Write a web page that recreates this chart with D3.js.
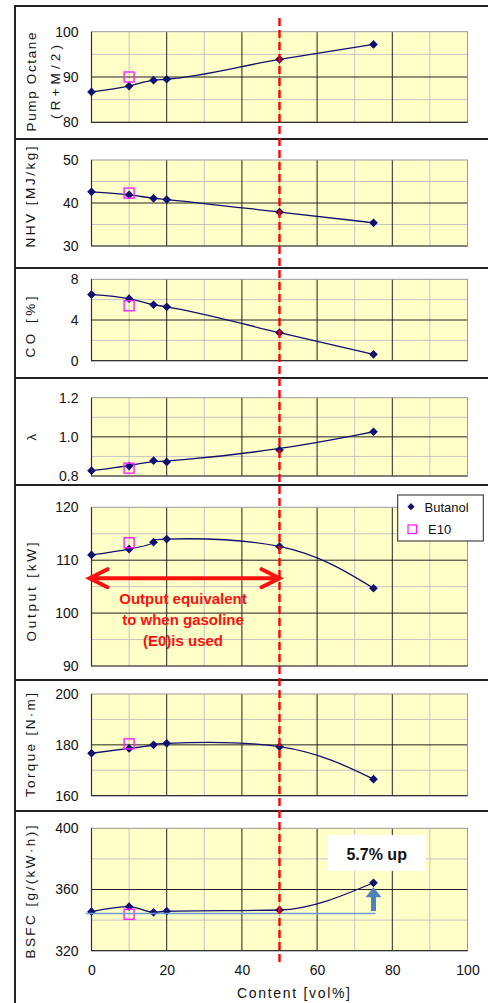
<!DOCTYPE html>
<html>
<head>
<meta charset="utf-8">
<script src="https://cdn.jsdelivr.net/npm/d3@7"></script>
<style>
    body { margin: 0; background: #fff; }
    text { font-family: "Liberation Sans", Arial, sans-serif; }
</style>
</head>
<body>
<svg id="chart" width="488" height="1003"></svg>
<script>
// Butanol content [vol%] and measured values
const content = [0, 10, 16.5, 20, 50, 75];
const e10Content = [10];

const octane = [86.7, 88.0, 89.3, 89.5, 93.9, 97.2];
const octaneE10 = [90.0];
const nhv = [42.6, 41.9, 41.1, 40.8, 37.9, 35.4];
const nhvE10 = [42.3];
const co = [6.5, 6.1, 5.5, 5.3, 2.75, 0.63];
const coE10 = [5.4];
const lambda = [0.827, 0.851, 0.878, 0.872, 0.933, 1.026];
const lambdaE10 = [0.84];
const output = [111.0, 112.1, 113.4, 114.0, 112.6, 104.7];
const outputE10 = [113.3];
const torque = [176.7, 178.6, 180.0, 180.6, 179.3, 166.5];
const torqueE10 = [180.4];
const bsfc = [345.5, 348.8, 345.1, 345.8, 346.6, 364.4];
const bsfcE10 = [343.8];

// annotations
const limitContent = 50;
const bsfcBase = 344.3;
const bsfcArrow = [346, 361.4];
const outputArrowLevel = 106.6;

const xTicks = [0, 20, 40, 60, 80, 100];
const xGrid = d3.range(0, 101, 10);

const svg = d3.select("#chart");
const x = d3.scaleLinear().domain([0, 100]).range([91.5, 467.5]);

const navy = "#10106e";

// panel setup (layout only)
const panels = [
    { title: ["Pump Octane", "(R+M/2)"], len: [99, 74], tx: [31, 55], ty: 82, top: 31.7, bottom: 122.3,
      domain: [80, 100], ticks: [80, 90, 100], minor: [85, 95], values: octane, e10: octaneE10, curve: d3.curveMonotoneX, fmt: d3.format("d") },
    { title: ["NHV [MJ/kg]"], len: [101], tx: [30], ty: 197, top: 160, bottom: 246,
      domain: [30, 50], ticks: [30, 40, 50], minor: [35, 45], values: nhv, e10: nhvE10, curve: d3.curveMonotoneX, fmt: d3.format("d") },
    { title: ["CO [%]"], len: [61], tx: [30], ty: 327, top: 279.3, bottom: 360.7,
      domain: [0, 8], ticks: [0, 4, 8], minor: [2, 6], values: co, e10: coE10, curve: d3.curveMonotoneX, fmt: d3.format("d") },
    { title: ["λ"], len: [null], tx: [31], ty: 437, top: 397.7, bottom: 476,
      domain: [0.8, 1.2], ticks: [0.8, 1.0, 1.2], minor: [0.9, 1.1], values: lambda, e10: lambdaE10, curve: d3.curveBasis, fmt: d3.format(".1f") },
    { title: ["Output  [kW]"], len: [99], tx: [31], ty: 592, top: 507.3, bottom: 666,
      domain: [90, 120], ticks: [90, 100, 110, 120], minor: [95, 105, 115], values: output, e10: outputE10, curve: d3.curveNatural, fmt: d3.format("d") },
    { title: ["Torque [N·m]"], len: [104], tx: [30], ty: 745, top: 694, bottom: 795.7,
      domain: [160, 200], ticks: [160, 180, 200], minor: [170, 190], values: torque, e10: torqueE10, curve: d3.curveNatural, fmt: d3.format("d") },
    { title: ["BSFC [g/(kW·h)]"], len: [133], tx: [30], ty: 892, top: 828.3, bottom: 950.7,
      domain: [320, 400], ticks: [320, 360, 400], minor: [340, 380], values: bsfc, e10: bsfcE10, curve: d3.curveMonotoneX, fmt: d3.format("d") }
];

// outer frame
const sepY = [6, 139, 268, 378, 485, 680, 811];
svg.append("g")
    .selectAll("line")
    .data(sepY)
    .enter()
    .append("line")
    .attr("x1", 15).attr("x2", 488)
    .attr("y1", (d) => d).attr("y2", (d) => d)
    .attr("stroke", "#222").attr("stroke-width", 2);
svg.append("line")
    .attr("x1", 15).attr("x2", 15).attr("y1", 5).attr("y2", 1003)
    .attr("stroke", "#222").attr("stroke-width", 2);

let yScales = [];

panels.forEach(function (p, i) {
    const y = d3.scaleLinear().domain(p.domain).range([p.bottom, p.top]);
    yScales.push(y);
    const g = svg.append("g");

    g.append("rect")
        .attr("x", x(0)).attr("y", p.top)
        .attr("width", x(100) - x(0)).attr("height", p.bottom - p.top)
        .attr("fill", "#ffffc8");

    // minor grid
    g.selectAll("line.vminor")
        .data(xGrid.filter((d) => d % 20 !== 0))
        .enter().append("line")
        .attr("x1", (d) => x(d)).attr("x2", (d) => x(d))
        .attr("y1", p.top).attr("y2", p.bottom)
        .attr("stroke", "#c4c4c4").attr("stroke-width", 1);
    g.selectAll("line.hminor")
        .data(p.minor)
        .enter().append("line")
        .attr("x1", x(0)).attr("x2", x(100))
        .attr("y1", (d) => y(d)).attr("y2", (d) => y(d))
        .attr("stroke", "#c4c4c4").attr("stroke-width", 1);
    // major grid
    g.selectAll("line.vmajor")
        .data(xTicks.slice(1, -1))
        .enter().append("line")
        .attr("x1", (d) => x(d)).attr("x2", (d) => x(d))
        .attr("y1", p.top).attr("y2", p.bottom)
        .attr("stroke", "#222").attr("stroke-width", 1);
    g.selectAll("line.hmajor")
        .data(p.ticks.slice(1, -1))
        .enter().append("line")
        .attr("x1", x(0)).attr("x2", x(100))
        .attr("y1", (d) => y(d)).attr("y2", (d) => y(d))
        .attr("stroke", "#222").attr("stroke-width", 1);

    // plot border
    g.append("rect")
        .attr("x", x(0)).attr("y", p.top)
        .attr("width", x(100) - x(0)).attr("height", p.bottom - p.top)
        .attr("fill", "none").attr("stroke", "#999").attr("stroke-width", 1);
    g.append("path")
        .attr("d", `M${x(0)},${p.top}V${p.bottom}H${x(100)}`)
        .attr("fill", "none").attr("stroke", "#333").attr("stroke-width", 1.2);

    // y axis labels
    const ax = g.append("g")
        .attr("transform", `translate(${x(0)},0)`)
        .call(d3.axisLeft(y).tickValues(p.ticks).tickSize(0).tickPadding(13).tickFormat(p.fmt));
    ax.select(".domain").remove();
    ax.selectAll("text").attr("font-size", 14).attr("fill", "#111")
        .style("font-family", '"Liberation Sans", Arial, sans-serif');

    // title
    p.title.forEach(function (t, j) {
        const tt = g.append("text")
            .attr("transform", `translate(${p.tx[j]},${p.ty}) rotate(-90)`)
            .attr("text-anchor", "middle")
            .attr("dy", "0.35em")
            .attr("font-size", 13.5)
            .attr("fill", "#111")
            .text(t);
        if (p.len[j]) tt.attr("textLength", p.len[j]).attr("lengthAdjust", "spacing");
    });

    // series line
    const lineGen = d3.line()
        .x((d, k) => x(content[k]))
        .y((d) => y(d))
        .curve(p.curve);
    g.append("path")
        .datum(p.values)
        .attr("d", lineGen)
        .attr("fill", "none")
        .attr("stroke", navy)
        .attr("stroke-width", 1.3);

    // diamonds
    g.selectAll("path.pt")
        .data(p.values)
        .enter().append("path")
        .attr("d", d3.symbol().type(d3.symbolSquare).size(38))
        .attr("transform", (d, k) => `translate(${x(content[k])},${y(d)}) rotate(45)`)
        .attr("fill", navy);

    // E10 squares
    g.selectAll("rect.e10")
        .data(p.e10)
        .enter().append("rect")
        .attr("x", (d, k) => x(e10Content[k]) - 5)
        .attr("y", (d) => y(d) - 5)
        .attr("width", 10).attr("height", 10)
        .attr("fill", "none")
        .attr("stroke", "#ff1fff")
        .attr("stroke-width", 1.4);
});

// x axis on the bottom panel
const last = panels[panels.length - 1];
const xAxis = svg.append("g")
    .attr("transform", `translate(0,${last.bottom})`)
    .call(d3.axisBottom(x).tickValues(xTicks).tickSize(0).tickPadding(14));
xAxis.select(".domain").remove();
xAxis.selectAll("text").attr("font-size", 14).attr("fill", "#111")
    .style("font-family", '"Liberation Sans", Arial, sans-serif');
svg.append("text")
    .attr("x", 293.5).attr("y", 998)
    .attr("text-anchor", "middle")
    .attr("font-size", 14)
    .attr("fill", "#111")
    .attr("textLength", 113).attr("lengthAdjust", "spacing")
    .text("Content [vol%]");

// BSFC baseline and arrow
const yB = yScales[6];
svg.append("line")
    .attr("x1", x(-1.5)).attr("x2", x(75.5))
    .attr("y1", yB(bsfcBase)).attr("y2", yB(bsfcBase))
    .attr("stroke", "#6b9bd2").attr("stroke-width", 1.6);
const ax75 = x(75), aBot = yB(bsfcArrow[0]), aTop = yB(bsfcArrow[1]);
svg.append("path")
    .attr("d", `M${ax75 - 2.5},${aBot}V${aTop + 10}H${ax75 - 8}L${ax75},${aTop}L${ax75 + 8},${aTop + 10}H${ax75 + 2.5}V${aBot}Z`)
    .attr("fill", "#4f81bd");

// 5.7% up label
svg.append("rect")
    .attr("x", 327.7).attr("y", 835).attr("width", 98).attr("height", 36)
    .attr("fill", "#fff");
svg.append("text")
    .attr("x", 376.7).attr("y", 860)
    .attr("text-anchor", "middle")
    .attr("font-size", 16).attr("font-weight", "bold")
    .attr("fill", "#111")
    .text("5.7% up");

// red double arrow in output panel
const yO = yScales[4];
const ay = yO(outputArrowLevel), axL = x(0) - 2, axR = x(limitContent);
svg.append("path")
    .attr("d", `M${axL + 2},${ay}H${axR - 2}M${axL + 18},${ay - 9}L${axL},${ay}L${axL + 18},${ay + 9}M${axR - 18},${ay - 9}L${axR},${ay}L${axR - 18},${ay + 9}`)
    .attr("fill", "none")
    .attr("stroke", "#ff1010")
    .attr("stroke-width", 4)
    .attr("stroke-linejoin", "miter")
    .attr("stroke-linecap", "round");
const annLines = ["Output equivalent", "to when gasoline", "(E0)is used"];
svg.append("g")
    .selectAll("text")
    .data(annLines)
    .enter().append("text")
    .attr("x", 183)
    .attr("y", (d, i) => 603.5 + i * 21.2)
    .attr("text-anchor", "middle")
    .attr("font-size", 15).attr("font-weight", "bold")
    .attr("fill", "#ff1010")
    .text((d) => d);

// red dashed limit line
svg.append("line")
    .attr("x1", x(limitContent)).attr("x2", x(limitContent))
    .attr("y1", 18).attr("y2", 962)
    .attr("stroke", "#ff0000")
    .attr("stroke-width", 2.4)
    .attr("stroke-dasharray", "8,4");

// legend
const leg = svg.append("g");
leg.append("rect")
    .attr("x", 397.7).attr("y", 495).attr("width", 85.6).attr("height", 46)
    .attr("fill", "#fff").attr("stroke", "#222").attr("stroke-width", 1);
leg.append("path")
    .attr("d", d3.symbol().type(d3.symbolSquare).size(26))
    .attr("transform", "translate(411,506.7) rotate(45)")
    .attr("fill", navy);
leg.append("rect")
    .attr("x", 408).attr("y", 525).attr("width", 8.5).attr("height", 8.5)
    .attr("fill", "none").attr("stroke", "#ff1fff").attr("stroke-width", 1.3);
leg.append("text").attr("x", 424.5).attr("y", 511.5).attr("font-size", 13).attr("fill", "#111").text("Butanol");
leg.append("text").attr("x", 428).attr("y", 534).attr("font-size", 13).attr("fill", "#111").text("E10");
</script>
</body>
</html>
